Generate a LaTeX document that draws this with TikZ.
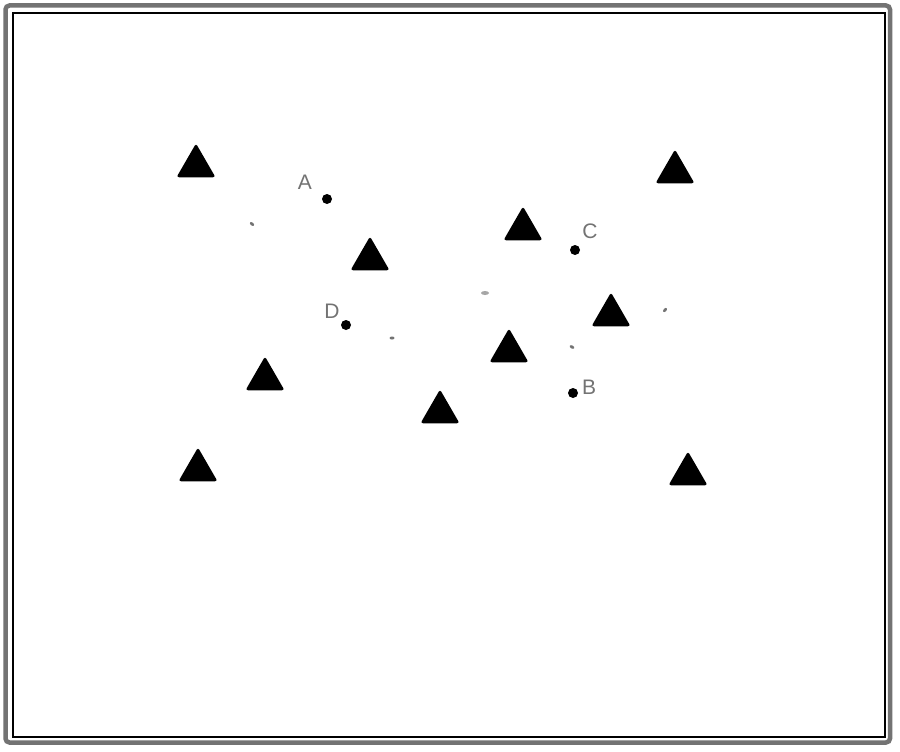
\documentclass[tikz,border=0pt]{standalone}
\usepackage{fontspec}
\setmainfont{Liberation Sans}
\usetikzlibrary{shapes.geometric}
\begin{document}
\begin{tikzpicture}[x=1pt,y=-1pt,
  tri/.style={regular polygon, regular polygon sides=3, minimum size=45pt, inner sep=0pt, outer sep=0pt, fill=black, rounded corners=2.5pt},
  pt/.style={circle, fill=black, minimum size=10pt, inner sep=0pt},
  lbl/.style={text=black!55, font=\fontsize{21}{24}\selectfont, inner sep=0pt},
  speck/.style={ellipse, fill=black!55, minimum width=5pt, minimum height=3pt, inner sep=0pt}]
\useasboundingbox (0,0) rectangle (900,752);
\fill[white] (0,0) rectangle (900,752);
% frame
\draw[black!55, line width=4.5pt, rounded corners=4pt] (5.5,5.5) rectangle (890,742.5);
\draw[black, line width=1.2pt] (13,13) rectangle (885,737);
% triangles
\node[tri] (t1) at (196,166) {};
\node[tri] (t2) at (370,259) {};
\node[tri] (t3) at (523,229) {};
\node[tri] (t4) at (611,315) {};
\node[tri] (t5) at (509,351) {};
\node[tri] (t6) at (265,379) {};
\node[tri] (t7) at (440,412) {};
\node[tri] (t8) at (198,470) {};
\node[tri] (t9) at (675,172) {};
\node[tri] (t10) at (688,474) {};
% points
\node[pt] (a) at (327,199) {};
\node[pt] (c) at (575,250) {};
\node[pt] (d) at (346,325) {};
\node[pt] (b) at (573,393) {};
\node[lbl] (la) at (305,182) {A};
\node[lbl] (lc) at (590,231) {C};
\node[lbl] (ld) at (332,311) {D};
\node[lbl] (lb) at (589,387) {B};
% specks
\node[speck, rotate=-40] (s1) at (252,224) {};
\node[speck, minimum width=8pt, minimum height=4pt, black!35] (s2) at (485,293) {};
\node[speck] (s3) at (392,338) {};
\node[speck, rotate=-30] (s4) at (572,347) {};
\node[speck, rotate=50] (s5) at (665,310) {};
\end{tikzpicture}
\end{document}
